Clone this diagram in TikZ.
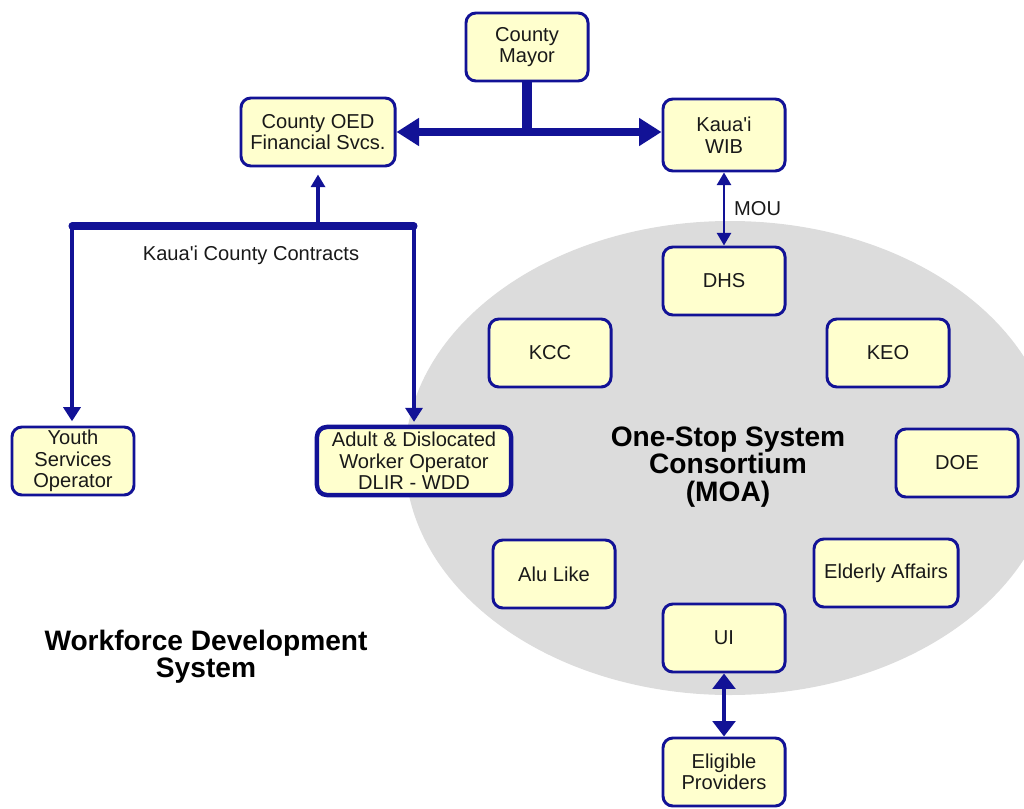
\documentclass[tikz,border=0pt]{standalone}
\usepackage{fontspec}
\setmainfont{Liberation Sans}
\usetikzlibrary{arrows.meta}
\definecolor{navy}{RGB}{18,18,150}
\definecolor{cream}{RGB}{255,255,206}
\definecolor{moagray}{RGB}{220,220,220}
\newcommand{\ap}{\textquotesingle}
\newcommand{\boxfont}{\fontsize{14.3}{15.3}\selectfont}

\tikzset{
  unit/.style={draw=navy, line width=2.1pt, fill=cream, rounded corners=7pt,
    minimum width=3.05cm, minimum height=1.7cm, align=center, inner sep=1pt,
    text=black!90, font=\boxfont},
  heavy/.style={draw=navy, line width=5.6pt, -{Triangle[length=16pt,width=19pt]}},
  medium/.style={draw=navy, line width=3.4pt, -{Triangle[length=10pt,width=12pt]}},
  light/.style={draw=navy, line width=1.8pt, -{Triangle[length=9pt,width=10pt]}},
  title/.style={align=center, font=\bfseries\fontsize{20}{19.5}\selectfont}
}

\begin{document}
\begin{tikzpicture}[x=0.025cm,y=-0.025cm]
\useasboundingbox (0,0) rectangle (1024,808);

% consortium area
\begin{scope}
\clip (0,0) rectangle (1024,808);
\fill[moagray] (730,458) ellipse (325 and 237);
\end{scope}

% county level
\node[unit] (mayor) at (527,47) {County\\Mayor};
\node[unit, minimum width=3.85cm] (oed) at (318,132) {County OED\\Financial Svcs.};
\node[unit, minimum height=1.8cm] (wib) at (724,135) {Kaua\ap i\\WIB};

\draw[navy, line width=7pt] (mayor.south) -- (mayor.south |- oed.east);
\draw[heavy, {Triangle[length=16pt,width=19pt]}-{Triangle[length=16pt,width=19pt]}]
  (oed.east) -- (oed.east -| wib.west);

% contracts
\node[unit] (youth) at (73,461) {Youth\\Services\\Operator};
\node[unit, line width=3.2pt, minimum width=4.85cm] (adult) at (414,461)
  {Adult \& Dislocated\\Worker Operator\\DLIR - WDD};
\coordinate (barL) at (72,226);
\coordinate (barR) at (414,226);
\draw[navy, line width=5pt, line cap=round] (barL) -- (barR);
\draw[light, line width=2.2pt, shorten >=5pt] (oed.south |- barL) -- (oed.south);
\draw[medium, shorten >=3pt] (barL) -- (barL |- youth.north);
\draw[medium, shorten >=2pt] (barR) -- (adult.north);
\node[font=\boxfont, text=black!90] (contracts) at (251,255) {Kaua\ap i County Contracts};

% one-stop partners
\node[unit] (dhs) at (724,281) {DHS};
\node[unit] (kcc) at (550,353) {KCC};
\node[unit] (keo) at (888,353) {KEO};
\node[unit] (doe) at (957,463) {DOE};
\node[unit] (alu) at (554,574) {Alu Like};
\node[unit, minimum width=3.6cm] (elderly) at (886,573) {Elderly Affairs};
\node[unit] (ui) at (724,638) {UI};
\node[unit] (providers) at (724,772) {Eligible\\Providers};

\draw[light, {Triangle[length=9pt,width=10pt]}-{Triangle[length=9pt,width=10pt]}]
  (wib.south) -- node[right, xshift=3pt, font=\boxfont, text=black!90] (mou) {MOU} (dhs.north);
\draw[medium, {Triangle[length=11pt,width=16pt]}-{Triangle[length=11pt,width=16pt]}]
  (ui.south) -- (providers.north);

\node[title] (moa) at (728,467) {One-Stop System\\Consortium\\(MOA)};

% system title
\node[title] (wds) at (206,657) {Workforce Development\\System};

\end{tikzpicture}
\end{document}
